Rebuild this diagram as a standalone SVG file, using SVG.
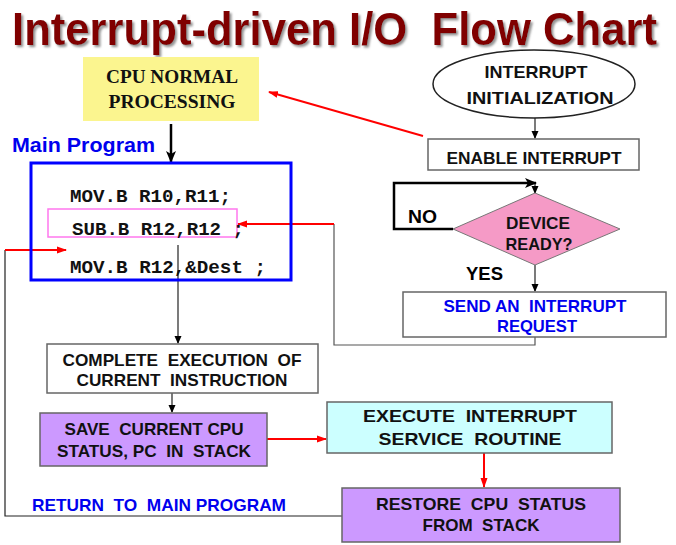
<svg xmlns="http://www.w3.org/2000/svg" width="676" height="545" viewBox="0 0 676 545">
<defs>
<filter id="sh" x="-5%" y="-20%" width="110%" height="140%"><feDropShadow dx="2" dy="2" stdDeviation="0.8" flood-color="#888" flood-opacity="0.9"/></filter>
<marker id="ab" markerWidth="8" markerHeight="8" refX="7" refY="4" orient="auto" markerUnits="userSpaceOnUse"><path d="M0,0.5 L8,4 L0,7.5 Z" fill="#000"/></marker>
<marker id="ar" markerWidth="10" markerHeight="8" refX="9" refY="4" orient="auto" markerUnits="userSpaceOnUse"><path d="M0,0.5 L10,4 L0,7.5 Z" fill="#f00"/></marker>
<marker id="abig" markerWidth="12" markerHeight="10" refX="11" refY="5" orient="auto" markerUnits="userSpaceOnUse"><path d="M0,0 L12,5 L0,10 L3,5 Z" fill="#000"/></marker>
</defs>
<style>
text{font-family:"Liberation Sans",Arial,sans-serif;font-weight:bold;white-space:pre;}
.t{font-size:17px;fill:#111;text-anchor:middle;}
.blue{fill:#0000ee;}
.serif{font-family:"Liberation Serif","Times New Roman",serif;font-size:18px;}
.code{font-family:"Liberation Mono","Courier New",monospace;font-size:19px;fill:#111;}
.box{stroke:#666;stroke-width:1.5;}
.k{stroke:#222;stroke-width:1.2;fill:none;}
.r{stroke:#f00;stroke-width:2;fill:none;}
</style>
<rect width="676" height="545" fill="#fff"/>
<g id="title">
<text x="0" y="0" transform="translate(12,45) scale(1,1.06)" font-size="43.5" fill="#800000" filter="url(#sh)" textLength="645" lengthAdjust="spacingAndGlyphs">Interrupt-driven I/O  Flow Chart</text>
</g>
<g id="connectors">
<line x1="171" y1="124" x2="171" y2="162" stroke="#000" stroke-width="2.5" marker-end="url(#abig)"/>
<line x1="423" y1="136" x2="269" y2="92" class="r" stroke-width="2.5" marker-end="url(#ar)"/>
<line x1="535" y1="118" x2="535" y2="138" class="k" marker-end="url(#ab)"/>
<polyline points="453,229 394,229 394,183 536,183" stroke="#000" stroke-width="2.5" fill="none" marker-end="url(#abig)"/>
<line x1="535" y1="184" x2="535" y2="193" class="k" marker-end="url(#ab)"/>
<line x1="535" y1="265" x2="535" y2="291" class="k" marker-end="url(#ab)"/>
<polyline points="535,337 535,345 334,345 334,224" stroke="#555" stroke-width="1.2" fill="none"/>
<line x1="334" y1="224" x2="238" y2="224" class="r" marker-end="url(#ar)"/>
<line x1="178" y1="245" x2="178" y2="343" class="k" marker-end="url(#ab)"/>
<line x1="172" y1="393" x2="172" y2="412" class="k" marker-end="url(#ab)"/>
<line x1="267" y1="439" x2="326" y2="439" class="r" marker-end="url(#ar)"/>
<line x1="484" y1="453" x2="484" y2="487" class="r" marker-end="url(#ar)"/>
<polyline points="342,516 5,516 5,250" stroke="#222" stroke-width="1.2" fill="none"/>
<line x1="5" y1="250" x2="66" y2="250" class="r" marker-end="url(#ar)"/>
</g>
<g id="cpu-normal">
<rect x="83" y="57" width="176" height="64" fill="#fbf58f"/>
<text x="172" y="83" class="t serif" textLength="132" lengthAdjust="spacingAndGlyphs">CPU NORMAL</text>
<text x="172" y="108" class="t serif" textLength="127" lengthAdjust="spacingAndGlyphs">PROCESSING</text>
</g>
<g id="main-program">
<text x="12" y="152" font-size="21" class="blue" textLength="143" lengthAdjust="spacingAndGlyphs">Main Program</text>
<rect x="31" y="163" width="260" height="117" fill="none" stroke="#0000ff" stroke-width="3"/>
<text x="70" y="202" class="code" textLength="161" lengthAdjust="spacingAndGlyphs">MOV.B R10,R11;</text>
<rect x="48" y="209" width="189" height="28" fill="none" stroke="#ff77ee" stroke-width="1.5"/>
<text x="72" y="235" class="code" textLength="172" lengthAdjust="spacingAndGlyphs">SUB.B R12,R12 ;</text>
<text x="70" y="273" class="code" textLength="196" lengthAdjust="spacingAndGlyphs">MOV.B R12,&amp;Dest ;</text>
</g>
<g id="interrupt-init">
<ellipse cx="534" cy="84" rx="101" ry="34" fill="#fff" stroke="#222" stroke-width="1.5"/>
<text x="536" y="78" class="t" textLength="103" lengthAdjust="spacingAndGlyphs">INTERRUPT</text>
<text x="540" y="104" class="t" textLength="147" lengthAdjust="spacingAndGlyphs">INITIALIZATION</text>
</g>
<g id="enable-interrupt">
<rect x="428" y="139" width="211" height="31" fill="#fff" class="box"/>
<text x="534" y="164" class="t" textLength="175" lengthAdjust="spacingAndGlyphs">ENABLE INTERRUPT</text>
</g>
<g id="device-ready">
<polygon points="535,193 620,229 535,265 453,229" fill="#f59ac6" stroke="#777" stroke-width="1"/>
<text x="538" y="229" class="t" textLength="64" lengthAdjust="spacingAndGlyphs">DEVICE</text>
<text x="539" y="250" class="t" textLength="67" lengthAdjust="spacingAndGlyphs">READY?</text>
<text x="408" y="223" font-size="19" fill="#000" textLength="29" lengthAdjust="spacingAndGlyphs">NO</text>
<text x="466" y="280" font-size="19" fill="#000" textLength="37" lengthAdjust="spacingAndGlyphs">YES</text>
</g>
<g id="send-request">
<rect x="403" y="292" width="263" height="45" fill="#fff" class="box"/>
<text x="535" y="312" class="t blue" textLength="183" lengthAdjust="spacingAndGlyphs">SEND AN  INTERRUPT</text>
<text x="537" y="332" class="t blue" textLength="80" lengthAdjust="spacingAndGlyphs">REQUEST</text>
</g>
<g id="complete-execution">
<rect x="47" y="344" width="271" height="49" fill="#fff" class="box"/>
<text x="182" y="366" class="t" textLength="239" lengthAdjust="spacingAndGlyphs">COMPLETE  EXECUTION  OF</text>
<text x="182" y="386" class="t" textLength="211" lengthAdjust="spacingAndGlyphs">CURRENT  INSTRUCTION</text>
</g>
<g id="save-status">
<rect x="40" y="413" width="227" height="53" fill="#cc99ff" class="box"/>
<text x="154" y="435" class="t" textLength="179" lengthAdjust="spacingAndGlyphs">SAVE  CURRENT CPU</text>
<text x="154" y="457" class="t" textLength="194" lengthAdjust="spacingAndGlyphs">STATUS, PC  IN  STACK</text>
</g>
<g id="execute-isr">
<rect x="327" y="402" width="285" height="51" fill="#ccffff" class="box"/>
<text x="470" y="422" class="t" font-size="19" textLength="214" lengthAdjust="spacingAndGlyphs">EXECUTE  INTERRUPT</text>
<text x="470" y="445" class="t" font-size="19" textLength="183" lengthAdjust="spacingAndGlyphs">SERVICE  ROUTINE</text>
</g>
<g id="restore-status">
<rect x="342" y="488" width="278" height="54" fill="#cc99ff" class="box"/>
<text x="481" y="510" class="t" textLength="210" lengthAdjust="spacingAndGlyphs">RESTORE  CPU  STATUS</text>
<text x="481" y="531" class="t" textLength="117" lengthAdjust="spacingAndGlyphs">FROM  STACK</text>
</g>
<g id="return-label">
<text x="32" y="511" font-size="17" class="blue" textLength="254" lengthAdjust="spacingAndGlyphs">RETURN  TO  MAIN PROGRAM</text>
</g>
</svg>
